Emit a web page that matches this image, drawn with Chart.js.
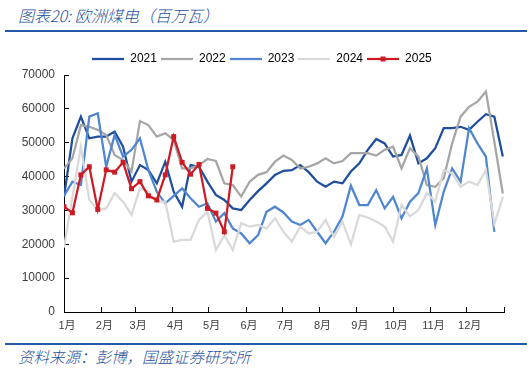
<!DOCTYPE html>
<html lang="zh-CN">
<head>
<meta charset="UTF-8">
<title>欧洲煤电（百万瓦）</title>
<style>
  html, body { margin: 0; padding: 0; background: #fff; }
  body { width: 532px; height: 369px; position: relative; overflow: hidden; font-family: "Noto Sans CJK SC", sans-serif; }
  .title { position: absolute; left: 18px; top: 7px; font-size: 16px; line-height: 16px; font-style: italic; font-weight: 300; color: #1f5199; white-space: nowrap; }
  .rule { position: absolute; left: 5px; width: 522px; height: 2px; background: #2359a8; }
  .source { position: absolute; left: 18px; top: 348px; font-size: 15.5px; line-height: 16px; font-style: italic; font-weight: 300; color: #1f5199; white-space: nowrap; }
  #box { position: absolute; left: 0; top: 49px; width: 532px; height: 294px; }
</style>
</head>
<body>
  <div class="title">图表20: 欧洲煤电（百万瓦）</div>
  <div class="rule" style="top:30px"></div>
  <div id="box"><canvas id="chart" width="532" height="294"></canvas></div>
  <div class="rule" style="top:343px"></div>
  <div class="source">资料来源：彭博，国盛证券研究所</div>

  <script src="https://cdn.jsdelivr.net/npm/chart.js"></script>
  <script>
    // week positions (day of year) and month axis
    const weeks = [0, 7, 14, 21, 28, 35, 42, 49, 56, 63, 70, 77, 84, 91, 98, 105, 112, 119, 126, 133,
                   140, 147, 154, 161, 168, 175, 182, 189, 196, 203, 210, 217, 224, 231, 238, 245, 252,
                   259, 266, 273, 280, 287, 294, 301, 308, 315, 322, 329, 336, 343, 350, 357, 364];
    const monthStarts = [0, 31, 59, 90, 120, 151, 181, 212, 243, 273, 304, 334, 365];
    const monthLabels = ['1月', '2月', '3月', '4月', '5月', '6月', '7月', '8月', '9月', '10月', '11月', '12月', ''];

    // weekly coal power output, MW
    const coal2021 = [34000, 51300, 57700, 51300, 51800, 51800, 53300, 48800, 38500, 43400, 41900, 38000, 44400, 35500,
                      31100, 43400, 42900, 38500, 34600, 33100, 30600, 30100, 33100, 35700, 38000, 40500, 41700, 41900,
                      43400, 41300, 38500, 37000, 38500, 38000, 41500, 43900, 47900, 51100, 49800, 45900, 46400, 52100,
                      43900, 45400, 48400, 54300, 54300, 54700, 53800, 56200, 58400, 57700, 45900];
    const coal2022 = [42400, 45400, 55200, 54700, 53800, 52300, 46400, 44900, 41500, 56400, 55200, 51800, 52800, 50800,
                      42400, 42400, 43400, 45200, 44600, 38000, 37500, 34100, 38500, 40500, 41300, 44400, 46200, 44900,
                      42400, 42900, 43900, 45400, 43900, 44600, 46900, 46900, 46900, 46200, 47900, 48800, 42400, 48400,
                      45900, 37500, 37000, 39500, 49800, 57700, 60600, 62100, 65100, 50300, 35000];
    const coal2023 = [34300, 38500, 37500, 57700, 58700, 42900, 52300, 45900, 47900, 51300, 41900, 35500, 32100, 34300,
                      36500, 33600, 31100, 32100, 26700, 29200, 24700, 23200, 20300, 22700, 29600, 31100, 29400, 26700,
                      25700, 27200, 23700, 20300, 23700, 28200, 37300, 31600, 31600, 36000, 30600, 34000, 27700, 32600,
                      35100, 42400, 25700, 35500, 42400, 38500, 54300, 49800, 45900, 23700];
    const coal2024 = [19000, 34000, 48800, 33100, 30100, 30600, 35100, 32600, 28700, 36500, 35500, 32600, 32600, 20800,
                      21300, 21300, 27200, 29600, 18300, 22700, 18300, 26200, 25200, 25700, 24700, 27700, 23700, 20800,
                      25200, 23200, 23700, 27200, 22200, 26700, 20000, 28700, 27900, 26700, 25200, 20800, 31600, 28200,
                      30100, 35100, 32600, 41900, 41000, 37000, 38500, 37500, 41900, 26000, 34000];
    const coal2025 = [31100, 29300, 40500, 42900, 30300, 42000, 41300, 44200, 36400, 38500, 34300, 33100, 40500, 51800,
                      44200, 40700, 43600, 30600, 29200, 23700, 42900];

    function yearSet(label, values, color, order, marker) {
      return {
        label: label,
        data: values,
        borderColor: color,
        backgroundColor: color,
        borderWidth: 2.25,
        tension: 0,
        pointRadius: marker ? 3.5 : 0,
        pointStyle: 'rect',
        pointBorderWidth: 0,
        order: order
      };
    }

    // little line sample for the legend (with a square for 2025)
    function legendSwatch(color, marker) {
      const c = document.createElement('canvas');
      c.width = 32; c.height = 8;
      const g = c.getContext('2d');
      g.strokeStyle = color;
      g.lineWidth = 2.25;
      g.beginPath(); g.moveTo(0, 4); g.lineTo(32, 4); g.stroke();
      if (marker) { g.fillStyle = color; g.fillRect(13.5, 1.5, 5, 5); }
      return c;
    }

    const legendNudge = {
      id: 'legendNudge',
      afterLayout(chart) {
        chart.legend.left += 10;
        chart.legend.right += 10;
      }
    };

    new Chart(document.getElementById('chart'), {
      type: 'line',
      data: {
        labels: weeks,
        datasets: [
          yearSet('2021', coal2021, '#1f4e9c', 5, false),
          yearSet('2022', coal2022, '#a6a6a6', 4, false),
          yearSet('2023', coal2023, '#4f86cf', 3, false),
          yearSet('2024', coal2024, '#d9d9d9', 2, false),
          yearSet('2025', coal2025, '#cc1b24', 1, true)
        ]
      },
      options: {
        responsive: false,
        animation: false,
        devicePixelRatio: 1,
        layout: { padding: { left: 0, right: 28, top: 0, bottom: 0 } },
        plugins: {
          tooltip: { enabled: false },
          legend: {
            position: 'top',
            align: 'center',
            labels: {
              usePointStyle: true,
              pointStyleWidth: 32,
              padding: 4,
              color: '#333',
              font: { family: '"Liberation Sans", Arial, sans-serif', size: 12 },
              generateLabels: (chart) => chart.data.datasets.map((ds, i) => ({
                text: ds.label,
                pointStyle: legendSwatch(ds.borderColor, ds.pointRadius > 0),
                fillStyle: ds.borderColor,
                strokeStyle: ds.borderColor,
                lineWidth: 0,
                hidden: false,
                datasetIndex: i
              }))
            }
          }
        },
        scales: {
          x: {
            type: 'linear',
            min: 0,
            max: 365,
            afterBuildTicks: (scale) => { scale.ticks = monthStarts.map(v => ({ value: v })); },
            afterFit: (scale) => { scale.height = 31; },
            ticks: {
              autoSkip: false,
              maxRotation: 0,
              padding: 12,
              labelOffset: 3,
              color: '#404040',
              font: { family: '"Liberation Sans", "Noto Sans CJK SC", sans-serif', size: 11 },
              callback: (value, index) => monthLabels[index]
            },
            grid: { drawOnChartArea: false, tickLength: -5, color: '#000' },
            border: { color: '#000', width: 1 }
          },
          y: {
            min: 0,
            max: 70000,
            afterFit: (scale) => { scale.width = 64; },
            ticks: {
              stepSize: 10000,
              padding: 14,
              color: '#404040',
              font: { family: '"Liberation Sans", Arial, sans-serif', size: 12 },
              callback: (value) => String(value)
            },
            grid: { drawOnChartArea: false, tickLength: -5, color: '#000' },
            border: { color: '#000', width: 1 }
          }
        }
      },
      plugins: [legendNudge]
    });
  </script>
</body>
</html>
